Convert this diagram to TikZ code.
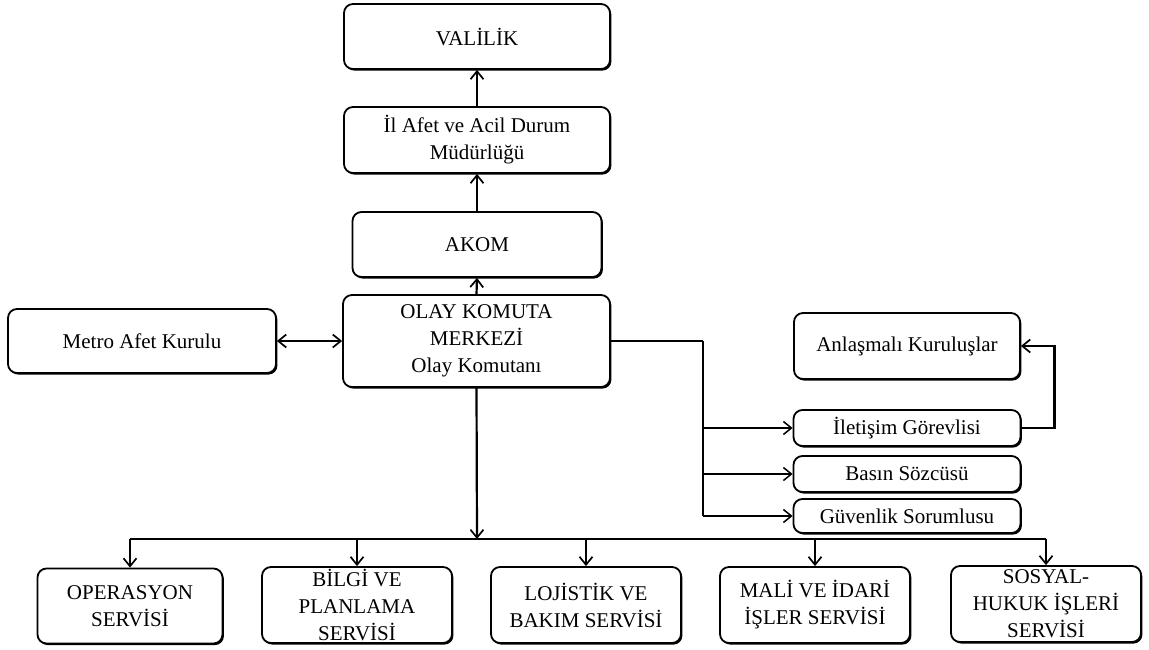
\documentclass[tikz,border=0pt]{standalone}
\usepackage{fontspec}
\setmainfont{Liberation Serif}
\usetikzlibrary{arrows.meta,shadows}
\begin{document}
\begin{tikzpicture}[x=1pt,y=-1pt,
  box/.style={draw, line width=1.8pt, rounded corners=9pt, fill=white,
    align=center, inner sep=0pt,
    font=\fontsize{21}{27}\selectfont,
    drop shadow={shadow xshift=1.4pt, shadow yshift=-1.6pt, opacity=1, fill=black}},
  conn/.style={line width=2.2pt},
  arr/.style={conn, -{Straight Barb[length=8pt,width=13pt,line width=1.7pt]}},
  twoarr/.style={conn, {Straight Barb[length=8pt,width=13pt,line width=1.7pt]}-{Straight Barb[length=8pt,width=13pt,line width=1.7pt]}},
  thinarr/.style={line width=1.6pt, -{Straight Barb[length=8pt,width=13pt,line width=1.5pt]}}]
\useasboundingbox (0,0) rectangle (1149,650);

% command chain
\node[box, minimum width=266pt, minimum height=65pt] (val) at (477,36.5) {VALİLİK};
\node[box, minimum width=266pt, minimum height=66pt] (ilafet) at (477,140) {İl Afet ve Acil Durum\\Müdürlüğü};
\node[box, minimum width=249pt, minimum height=65pt] (akom) at (477,244.5) {AKOM};
\node[box, minimum width=267pt, minimum height=92pt] (olay) at (476.5,341) {OLAY KOMUTA\\MERKEZİ\\Olay Komutanı};
\node[box, minimum width=268pt, minimum height=64pt] (metro) at (142,341) {Metro Afet Kurulu};

% staff positions
\node[box, minimum width=226pt, minimum height=66pt] (anl) at (907,346) {Anlaşmalı Kuruluşlar};
\node[box, minimum width=227pt, minimum height=36pt] (ilet) at (907,428) {İletişim Görevlisi};
\node[box, minimum width=227pt, minimum height=36pt] (basin) at (907,474) {Basın Sözcüsü};
\node[box, minimum width=227pt, minimum height=34pt] (guv) at (907,516) {Güvenlik Sorumlusu};

% services
\node[box, minimum width=185pt, minimum height=75pt] (op) at (130,606) {OPERASYON\\SERVİSİ};
\node[box, minimum width=190pt, minimum height=76pt] (bilgi) at (357,605) {BİLGİ VE\\PLANLAMA\\SERVİSİ};
\node[box, minimum width=190pt, minimum height=76pt] (loj) at (586,605) {LOJİSTİK VE\\BAKIM SERVİSİ};
\node[box, minimum width=190pt, minimum height=76pt] (mali) at (815,605) {MALİ VE İDARİ\\İŞLER SERVİSİ};
\node[box, minimum width=190pt, minimum height=76pt] (sos) at (1046,604) {SOSYAL-\\HUKUK İŞLERİ\\SERVİSİ};

% upward reporting
\draw[arr] (ilafet.north) -- (val.south);
\draw[arr] (akom.north) -- (ilafet.south);
\draw[arr] (olay.north) -- (akom.south);
\draw[twoarr] (metro.east) -- (olay.west);

% staff branch
\coordinate (split) at (703,341);
\draw[line width=2.6pt] (olay.east) -- (split);
\draw[line width=1.9pt] (split) -- (split |- guv);
\draw[thinarr] (split |- ilet) -- (ilet.west);
\draw[thinarr] (split |- basin) -- (basin.west);
\draw[thinarr] (split |- guv) -- (guv.west);
\draw[arr] (ilet.east) -- ++(33,0) |- (anl.east);

% service bus
\coordinate (bus) at (477,539);
\draw[arr] (olay.south) -- (bus);
\draw[conn] (op.north |- bus) -- (sos.north |- bus);
\foreach \s in {op,bilgi,loj,mali,sos}
  \draw[arr] (\s.north |- bus) -- (\s.north);
\end{tikzpicture}
\end{document}
